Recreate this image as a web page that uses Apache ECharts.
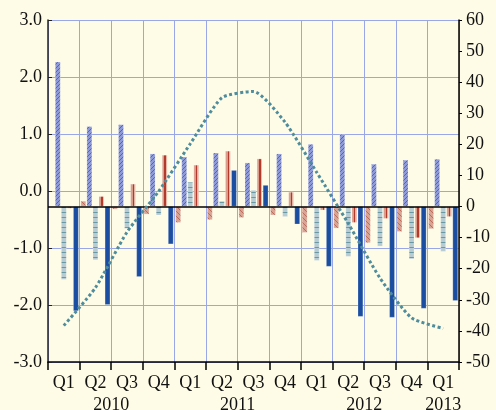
<!DOCTYPE html>
<html>
<head>
<meta charset="utf-8">
<script src="https://cdn.jsdelivr.net/npm/echarts@6.0.0/dist/echarts.min.js"></script>
<style>
  html, body { margin: 0; padding: 0; background: #fefce6; }
  #chart { width: 496px; height: 410px; }
</style>
</head>
<body>
<div id="chart"></div>
<script>
// quarters Q1 2010 .. Q1 2013
const quarters = ['Q1', 'Q2', 'Q3', 'Q4', 'Q1', 'Q2', 'Q3', 'Q4', 'Q1', 'Q2', 'Q3', 'Q4', 'Q1']
const yearLabels = { 2: '2010', 6: '2011', 10: '2012', 12.5: '2013' }

// values read against the right-hand scale (bars start at its zero)
const salmonHatched = [0, 1.8, -0.9, -2.5, -5.2, -4.3, -3.6, -2.8, -8.4, -7.0, -11.7, -8.1, -7.2]
const blueHatched = [46.6, 25.8, 26.4, 17.0, 16.0, 17.3, 14.1, 17.0, 20.1, 23.3, 13.7, 15.0, 15.3]
const greyHatched = [-23.5, -17.2, -7.1, -2.8, 7.9, 1.8, 5.3, -3.3, -17.4, -16.1, -12.8, -16.9, -14.5]
const salmonPlain = [-0.6, 3.3, 7.3, 16.6, 13.4, 17.9, 15.4, 4.7, -1.2, -5.2, -3.9, -10.1, -3.3]
const blueSolid = [-33.6, -31.6, -22.6, -12.1, 0, 11.7, 6.9, -5.7, -19.3, -35.4, -35.7, -32.8, -30.3]
const trendLine = [-38.3, -26.1, -8.2, 4.9, 20.2, 35.0, 37.0, 27.1, 11.0, -5.5, -23.0, -35.8, -39.2]

const font = 'Liberation Serif'

function makePattern(size, bg, stroke, draw) {
  const c = document.createElement('canvas')
  c.width = size
  c.height = size
  const ctx = c.getContext('2d')
  ctx.fillStyle = bg
  ctx.fillRect(0, 0, size, size)
  ctx.strokeStyle = stroke
  ctx.lineWidth = 1
  ctx.beginPath()
  draw(ctx, size)
  ctx.stroke()
  return { image: c, repeat: 'repeat' }
}

const blueDiag = makePattern(4, '#8e9bd8', '#4d67b6', (ctx, s) => { ctx.moveTo(0, s); ctx.lineTo(s, 0) })
const greyStripe = makePattern(5, '#b7cbd3', '#6a97a4', (ctx, s) => { ctx.moveTo(0, 2.5); ctx.lineTo(s, 2.5) })
const salmonDiag = makePattern(5, '#daa494', '#ba6b5c', (ctx, s) => { ctx.moveTo(0, 0); ctx.lineTo(s, s) })
const salmonRed = new echarts.graphic.LinearGradient(0, 0, 1, 0, [
  { offset: 0, color: '#da9d8c' },
  { offset: 0.45, color: '#da9d8c' },
  { offset: 0.45, color: '#b33a2b' },
  { offset: 0.7, color: '#b33a2b' },
  { offset: 0.7, color: '#e4b2a3' },
  { offset: 1, color: '#e4b2a3' }
])

function barSeries(name, data, color) {
  return {
    name,
    type: 'bar',
    yAxisIndex: 1,
    data,
    barWidth: 5.4,
    barGap: '12%',
    itemStyle: { color, borderColor: 'rgba(255,255,255,0.45)', borderWidth: 0.5 }
  }
}

const chart = echarts.init(document.getElementById('chart'))

const option = {
  backgroundColor: '#fefce6',
  animation: false,
  grid: { left: 48, right: 37, top: 20, bottom: 48, outerBoundsMode: 'none' },
  xAxis: [
    {
      type: 'category',
      data: quarters,
      axisLine: { onZero: false, lineStyle: { color: '#000', width: 1.5 } },
      axisTick: { show: true, length: 8, lineStyle: { color: '#000', width: 1.5 } },
      axisLabel: { color: '#111', fontFamily: font, fontSize: 18, margin: 12, interval: 0 },
      splitLine: { show: true, lineStyle: { color: '#9aa7e6', width: 1 } }
    },
    {
      type: 'value',
      min: 0,
      max: 13,
      interval: 0.5,
      position: 'bottom',
      axisLine: { show: false, onZero: false },
      axisTick: { show: false },
      splitLine: { show: false },
      axisLabel: {
        color: '#111',
        fontFamily: font,
        fontSize: 18,
        margin: 34,
        showMinLabel: true,
        showMaxLabel: true,
        formatter: (v) => yearLabels[v] || ''
      }
    }
  ],
  yAxis: [
    {
      type: 'value',
      min: -3,
      max: 3,
      interval: 1,
      axisLine: { show: true, onZero: false, lineStyle: { color: '#222', width: 1.5 } },
      axisTick: { show: true, inside: true, length: 4, lineStyle: { color: '#222' } },
      axisLabel: { color: '#111', fontFamily: font, fontSize: 18, margin: 6, formatter: (v) => v.toFixed(1) },
      splitLine: { show: true, lineStyle: { color: '#9aa7e6', width: 1 } }
    },
    {
      type: 'value',
      min: -50,
      max: 60,
      interval: 10,
      position: 'right',
      axisLine: { show: true, onZero: false, lineStyle: { color: '#000', width: 1.5 } },
      axisTick: { show: true, length: 3, lineStyle: { color: '#000' } },
      axisLabel: { color: '#111', fontFamily: font, fontSize: 18, margin: 7 },
      splitLine: { show: false }
    }
  ],
  series: [
    {
      ...barSeries('s1', salmonHatched, salmonDiag),
      markLine: {
        silent: true,
        symbol: ['none', 'none'],
        label: { show: false },
        lineStyle: { color: '#000', width: 1.5, type: 'solid' },
        data: [{ yAxis: 0 }]
      }
    },
    barSeries('s2', blueHatched, blueDiag),
    barSeries('s3', greyHatched, greyStripe),
    barSeries('s4', salmonPlain, salmonRed),
    barSeries('s5', blueSolid, '#1b4ea0'),
    {
      name: 'line',
      type: 'line',
      yAxisIndex: 1,
      data: trendLine,
      smooth: 0.2,
      symbol: 'none',
      z: 5,
      lineStyle: { color: '#4f8d9c', width: 3, type: [3, 2.5] }
    }
  ]
}

chart.setOption(option)
window.addEventListener('resize', () => chart.resize())
</script>
</body>
</html>
